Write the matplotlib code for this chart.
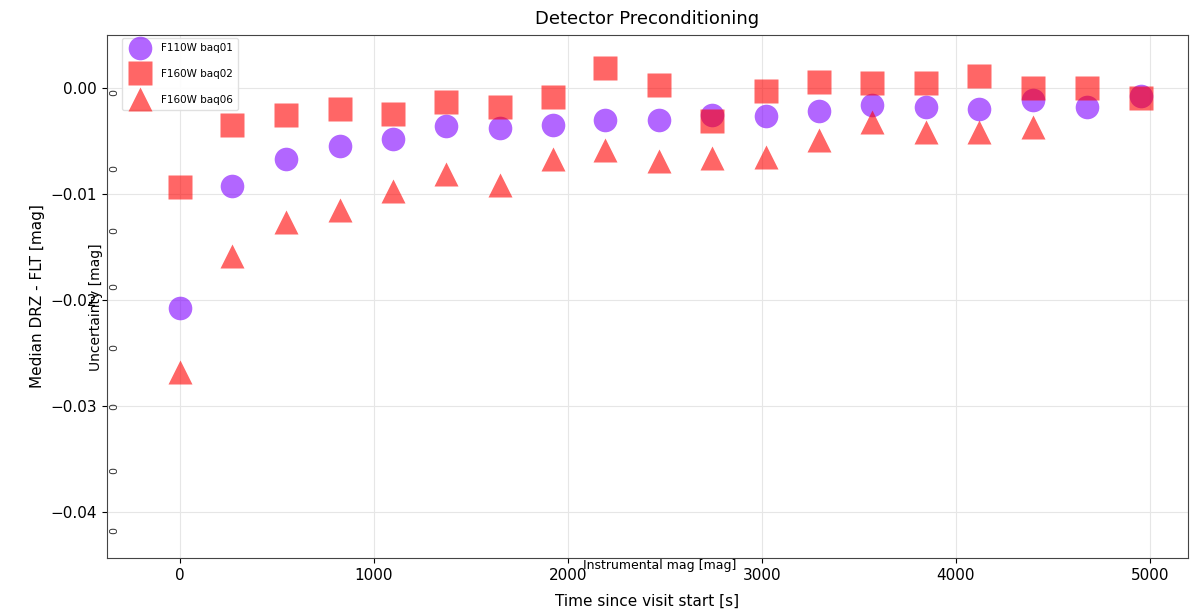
import matplotlib.pyplot as plt
import matplotlib.ticker as mticker
import numpy as np

# time since visit start [s]
t_all = [0, 268, 546, 825, 1098, 1371, 1649, 1923, 2191, 2469,
         2742, 3021, 3294, 3567, 3845, 4119, 4397, 4675, 4954]

# F110W baq01
f110_t = t_all
f110_v = [-0.0207, -0.0092, -0.0067, -0.0055, -0.0048, -0.0036, -0.0038, -0.0035,
          -0.0030, -0.0030, -0.0025, -0.0026, -0.0022, -0.0016, -0.0018, -0.0020,
          -0.0011, -0.0018, -0.0007]

# F160W baq02
f160a_t = t_all
f160a_v = [-0.0093, -0.0035, -0.0025, -0.0020, -0.0024, -0.0013, -0.0018, -0.0008,
           0.0019, 0.0003, -0.0031, -0.0003, 0.0006, 0.0005, 0.0005, 0.0011,
           0.0000, 0.0000, -0.0009]

# F160W baq06
f160b_t = t_all[:17]
f160b_v = [-0.0268, -0.0158, -0.0126, -0.0115, -0.0097, -0.0081, -0.0091, -0.0067,
           -0.0058, -0.0069, -0.0066, -0.0065, -0.0049, -0.0032, -0.0041, -0.0041,
           -0.0037]

fig = plt.figure(figsize=(11.99, 6.15), dpi=100)
ax = fig.add_axes([0.0892, 0.0927, 0.9016, 0.8503])

ax.plot(f110_t, f110_v, 'o', color='#7f00ff', alpha=0.6, ms=17, mec='none', label='F110W baq01')
ax.plot(f160a_t, f160a_v, 's', color='red', alpha=0.6, ms=17, mec='none', label='F160W baq02')
ax.plot(f160b_t, f160b_v, '^', color='red', alpha=0.6, ms=17, mec='none', label='F160W baq06')

ax.set_xlim(-376, 5196)
ax.set_ylim(-0.0443, 0.0050)
ax.set_xticks([0, 1000, 2000, 3000, 4000, 5000])
ax.set_yticks([0.0, -0.01, -0.02, -0.03, -0.04])
ax.yaxis.set_major_formatter(mticker.FuncFormatter(lambda v, p: ('%.2f' % v).replace('-', '\u2212')))
ax.grid(True, color='#e6e6e6', lw=0.8)
ax.tick_params(labelsize=11)
for s in ax.spines.values():
    s.set_color('#444444')

ax.set_title('Detector Preconditioning', fontsize=13, pad=8)
ax.set_xlabel('Time since visit start [s]', fontsize=11, labelpad=8)
ax.set_ylabel('Median DRZ - FLT [mag]', fontsize=11)

leg = ax.legend(loc='upper left', bbox_to_anchor=(0.014, 0.994), borderaxespad=0,
                fontsize=7.5, markerscale=1.0, handlelength=2.5, handletextpad=0.7,
                labelspacing=1.5, borderpad=0.5, framealpha=0.9, edgecolor='#dddddd')

# stray labels from an overlaid panel
fig.text(0.080, 0.50, 'Uncertainty [mag]', rotation=90, ha='center', va='center', fontsize=10)
fig.text(0.55, 0.080, 'Instrumental mag [mag]', ha='center', va='center', fontsize=9)
for yy in [92, 168, 230, 287, 348, 407, 470, 530]:
    fig.text(0.095, 1 - yy / 615, '0', rotation=90, ha='center', va='center', fontsize=8, color='#333333')

fig.savefig('out.png', dpi=100)
